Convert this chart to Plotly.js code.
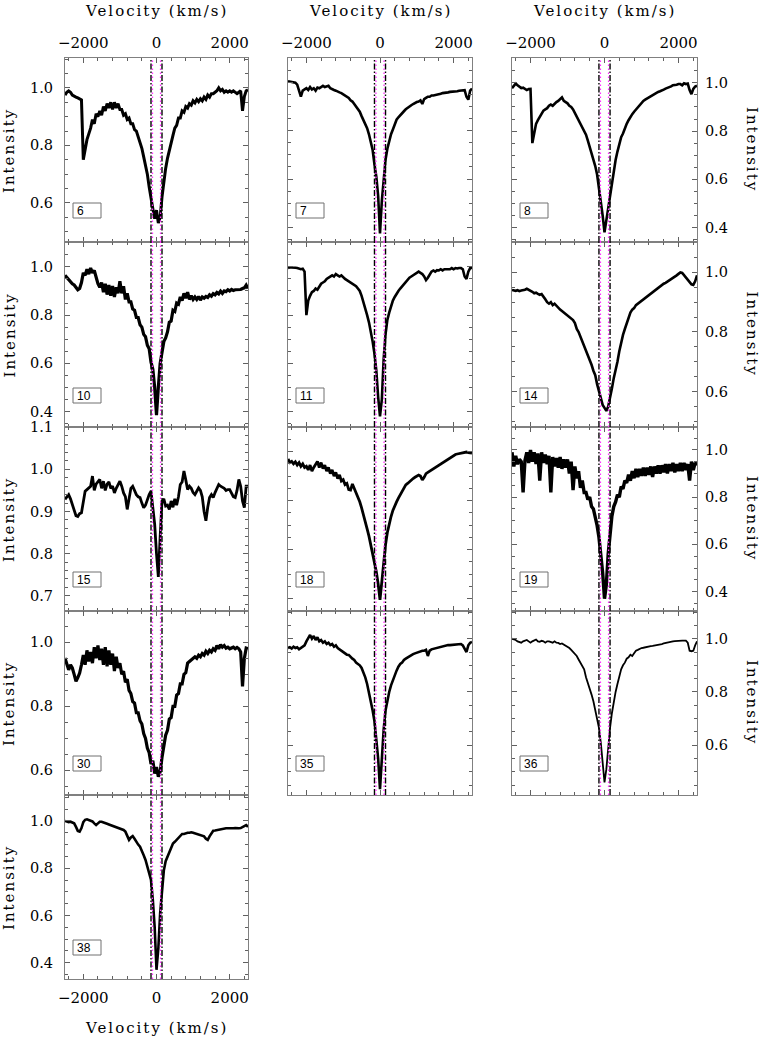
<!DOCTYPE html>
<html>
<head>
<meta charset="utf-8">
<script src="https://cdn.plot.ly/plotly-3.0.1.min.js"></script>
<style>html,body{margin:0;padding:0;background:#fff}#plot{width:761px;height:1038px}</style>
</head>
<body>
<div id="plot"></div>
<script>
// ---------------- DATA ----------------
const vel = [-2500,-2450,-2400,-2350,-2300,-2250,-2200,-2150,-2100,-2050,
 -2000,-1950,-1900,-1850,-1800,-1750,-1700,-1650,-1600,-1550,
 -1500,-1450,-1400,-1350,-1300,-1250,-1200,-1150,-1100,-1050,
 -1000,-950,-900,-850,-800,-750,-700,-650,-600,-550,
 -500,-450,-400,-350,-300,-250,-200,-150,-100,-50,
 0,
 50,100,150,200,250,300,350,400,450,500,
 550,600,650,700,750,800,850,900,950,1000,
 1050,1100,1150,1200,1250,1300,1350,1400,1450,1500,
 1550,1600,1650,1700,1750,1800,1850,1900,1950,2000,
 2050,2100,2150,2200,2250,2300,2350,2400,2450,2500];

const spec6 = [0.975,0.985,0.99,0.985,0.975,0.97,0.968,0.965,0.962,0.958,
 0.75,0.79,0.82,0.84,0.86,0.89,0.875,0.91,0.90,0.92,
 0.905,0.935,0.92,0.945,0.93,0.95,0.925,0.95,0.93,0.945,
 0.925,0.925,0.905,0.91,0.89,0.895,0.875,0.875,0.855,0.85,
 0.83,0.81,0.79,0.76,0.735,0.70,0.655,0.61,0.58,0.545,
 0.575,
 0.53,0.55,0.62,0.68,0.72,0.755,0.785,0.81,0.835,0.86,
 0.87,0.895,0.895,0.92,0.915,0.935,0.93,0.945,0.94,0.955,
 0.948,0.96,0.952,0.962,0.955,0.968,0.96,0.975,0.968,0.98,
 0.98,0.985,0.99,1.0,0.99,0.995,0.985,0.99,0.985,0.99,
 0.985,0.99,0.985,0.98,0.985,0.99,0.92,0.97,0.99,0.993];

const spec7 = [1.004,1.003,1.0,1.0,0.998,0.99,0.96,0.94,0.965,0.97,
 0.975,0.968,0.98,0.97,0.975,0.965,0.978,0.975,0.98,0.985,
 0.98,0.983,0.985,0.975,0.97,0.968,0.965,0.96,0.958,0.955,
 0.95,0.945,0.94,0.935,0.925,0.92,0.91,0.90,0.89,0.878,
 0.86,0.845,0.83,0.81,0.785,0.755,0.72,0.66,0.61,0.53,
 0.375,
 0.51,0.61,0.68,0.725,0.76,0.785,0.805,0.825,0.845,0.855,
 0.865,0.875,0.88,0.888,0.895,0.90,0.905,0.91,0.915,0.918,
 0.92,0.925,0.91,0.93,0.935,0.94,0.94,0.945,0.945,0.946,
 0.948,0.95,0.952,0.955,0.955,0.957,0.958,0.96,0.96,0.96,
 0.962,0.963,0.965,0.965,0.966,0.967,0.94,0.928,0.965,0.974];

const spec8 = [0.978,0.99,0.997,0.99,0.985,0.978,0.98,0.975,0.97,0.974,
 0.975,0.75,0.80,0.83,0.845,0.86,0.87,0.885,0.89,0.895,
 0.905,0.91,0.905,0.915,0.92,0.925,0.935,0.94,0.925,0.92,
 0.915,0.905,0.90,0.89,0.875,0.86,0.845,0.835,0.82,0.80,
 0.785,0.76,0.735,0.71,0.68,0.655,0.62,0.57,0.52,0.45,
 0.38,
 0.43,0.50,0.55,0.60,0.65,0.68,0.715,0.745,0.775,0.79,
 0.815,0.83,0.845,0.86,0.87,0.88,0.89,0.90,0.91,0.918,
 0.925,0.93,0.935,0.94,0.945,0.95,0.953,0.958,0.962,0.965,
 0.97,0.972,0.976,0.978,0.98,0.985,0.99,0.99,0.992,0.995,
 0.995,0.99,0.998,0.995,0.997,0.97,0.953,0.975,0.985,0.988];

const spec10 = [0.965,0.955,0.948,0.94,0.93,0.925,0.915,0.905,0.91,0.935,
 0.975,0.965,0.99,0.97,0.995,0.975,0.985,0.95,0.93,0.915,
 0.935,0.895,0.93,0.885,0.925,0.88,0.92,0.875,0.915,0.89,
 0.94,0.89,0.92,0.865,0.89,0.855,0.855,0.825,0.82,0.79,
 0.79,0.76,0.75,0.72,0.71,0.675,0.66,0.605,0.575,0.50,
 0.385,
 0.50,0.60,0.645,0.69,0.705,0.73,0.77,0.775,0.82,0.815,
 0.85,0.845,0.875,0.86,0.89,0.87,0.895,0.865,0.88,0.865,
 0.875,0.865,0.877,0.862,0.875,0.87,0.877,0.873,0.884,0.878,
 0.889,0.884,0.894,0.888,0.899,0.89,0.9,0.897,0.905,0.9,
 0.906,0.902,0.905,0.905,0.908,0.906,0.91,0.913,0.924,0.91];

const spec11 = [0.995,0.998,0.997,0.995,0.996,0.995,0.993,0.99,0.992,0.98,
 0.80,0.86,0.88,0.895,0.90,0.91,0.905,0.92,0.93,0.935,
 0.94,0.95,0.955,0.96,0.965,0.96,0.97,0.965,0.96,0.965,
 0.955,0.95,0.945,0.94,0.935,0.93,0.925,0.92,0.91,0.90,
 0.88,0.855,0.835,0.80,0.77,0.735,0.69,0.64,0.57,0.46,
 0.38,
 0.45,0.62,0.72,0.78,0.81,0.84,0.86,0.875,0.89,0.90,
 0.91,0.92,0.93,0.94,0.95,0.955,0.96,0.965,0.97,0.975,
 0.98,0.975,0.97,0.96,0.945,0.955,0.97,0.98,0.985,0.98,
 0.986,0.985,0.99,0.985,0.99,0.99,0.993,0.99,0.995,0.99,
 0.995,0.993,0.995,0.995,0.99,0.96,0.95,0.98,0.995,0.995];

const spec14 = [0.941,0.94,0.938,0.94,0.937,0.939,0.94,0.942,0.945,0.942,
 0.94,0.935,0.93,0.932,0.928,0.925,0.927,0.92,0.91,0.90,
 0.895,0.90,0.89,0.895,0.887,0.88,0.875,0.87,0.865,0.862,
 0.858,0.85,0.845,0.84,0.83,0.81,0.80,0.785,0.77,0.755,
 0.74,0.725,0.705,0.69,0.67,0.655,0.625,0.60,0.575,0.555,
 0.545,
 0.535,0.55,0.575,0.61,0.645,0.67,0.70,0.735,0.765,0.79,
 0.81,0.83,0.85,0.865,0.875,0.88,0.89,0.895,0.90,0.905,
 0.91,0.915,0.92,0.925,0.93,0.935,0.94,0.945,0.95,0.955,
 0.958,0.962,0.965,0.969,0.972,0.975,0.98,0.985,0.99,0.995,
 1.0,0.998,0.99,0.98,0.975,0.965,0.96,0.958,0.97,0.99];

const spec15 = [0.929,0.935,0.94,0.93,0.915,0.905,0.89,0.888,0.895,0.897,
 0.92,0.948,0.952,0.956,0.96,0.984,0.95,0.965,0.972,0.976,
 0.955,0.972,0.95,0.965,0.97,0.955,0.96,0.944,0.955,0.962,
 0.972,0.96,0.944,0.935,0.905,0.93,0.955,0.96,0.95,0.94,
 0.935,0.933,0.92,0.909,0.915,0.93,0.94,0.948,0.915,0.87,
 0.80,
 0.745,0.84,0.925,0.93,0.913,0.915,0.905,0.925,0.91,0.93,
 0.915,0.935,0.964,0.97,0.996,0.975,0.952,0.96,0.955,0.945,
 0.94,0.948,0.956,0.95,0.935,0.90,0.878,0.91,0.933,0.94,
 0.933,0.945,0.955,0.964,0.96,0.958,0.955,0.95,0.952,0.952,
 0.945,0.935,0.933,0.95,0.976,0.96,0.925,0.909,0.96,0.96];

const spec18 = [0.97,0.955,0.96,0.95,0.958,0.945,0.955,0.94,0.95,0.935,
 0.94,0.925,0.945,0.92,0.935,0.95,0.96,0.935,0.955,0.93,
 0.945,0.92,0.935,0.91,0.925,0.90,0.915,0.89,0.905,0.88,
 0.885,0.865,0.87,0.845,0.843,0.868,0.85,0.83,0.81,0.795,
 0.77,0.745,0.715,0.685,0.655,0.62,0.585,0.55,0.51,0.46,
 0.395,
 0.47,0.55,0.62,0.67,0.71,0.735,0.76,0.78,0.795,0.81,
 0.825,0.84,0.855,0.864,0.87,0.878,0.885,0.89,0.895,0.90,
 0.904,0.90,0.884,0.895,0.91,0.915,0.92,0.925,0.93,0.935,
 0.94,0.945,0.95,0.955,0.96,0.965,0.97,0.975,0.98,0.986,
 0.988,0.99,0.992,0.995,0.997,0.998,0.998,0.996,0.995,0.994];

const spec19 = [0.99,0.93,0.975,0.94,0.96,0.95,0.82,0.955,0.99,0.945,
 1.0,0.95,0.99,0.94,0.985,0.87,0.99,0.945,0.98,0.94,
 0.975,0.82,0.97,0.93,0.965,0.925,0.97,0.92,0.96,0.925,
 0.96,0.90,0.95,0.83,0.93,0.88,0.91,0.84,0.87,0.82,
 0.82,0.79,0.80,0.76,0.75,0.72,0.68,0.63,0.56,0.48,
 0.37,
 0.43,0.56,0.655,0.72,0.76,0.78,0.81,0.80,0.845,0.835,
 0.87,0.86,0.895,0.87,0.91,0.88,0.92,0.885,0.92,0.89,
 0.925,0.89,0.925,0.895,0.93,0.885,0.93,0.90,0.935,0.90,
 0.935,0.905,0.94,0.90,0.94,0.91,0.945,0.905,0.94,0.91,
 0.945,0.91,0.945,0.915,0.94,0.87,0.95,0.915,0.945,0.935];

const spec30 = [0.951,0.935,0.914,0.93,0.92,0.90,0.878,0.89,0.904,0.93,
 0.96,0.93,0.975,0.94,0.97,0.935,0.985,0.95,0.99,0.945,
 0.98,0.93,0.985,0.925,0.975,0.93,0.965,0.91,0.955,0.92,
 0.935,0.90,0.91,0.875,0.885,0.85,0.84,0.815,0.81,0.78,
 0.78,0.755,0.745,0.715,0.70,0.67,0.655,0.62,0.63,0.59,
 0.61,
 0.58,0.595,0.64,0.675,0.71,0.725,0.76,0.765,0.80,0.80,
 0.835,0.84,0.87,0.87,0.90,0.905,0.935,0.94,0.945,0.95,
 0.955,0.95,0.96,0.955,0.965,0.96,0.972,0.965,0.975,0.97,
 0.98,0.975,0.99,0.98,0.993,0.985,0.99,0.982,0.985,0.98,
 0.982,0.985,0.98,0.984,0.98,0.97,0.862,0.95,0.982,0.98];

const spec35 = [0.965,0.968,0.963,0.97,0.965,0.968,0.96,0.966,0.97,0.975,
 0.99,1.005,1.014,1.0,1.01,0.995,1.005,0.99,0.995,0.985,
 0.99,0.98,0.985,0.976,0.98,0.97,0.975,0.965,0.96,0.955,
 0.95,0.945,0.94,0.939,0.93,0.925,0.92,0.91,0.905,0.90,
 0.89,0.875,0.855,0.83,0.80,0.765,0.73,0.69,0.63,0.55,
 0.435,
 0.55,0.66,0.73,0.77,0.80,0.825,0.845,0.865,0.88,0.895,
 0.905,0.91,0.92,0.925,0.93,0.935,0.94,0.942,0.945,0.948,
 0.95,0.952,0.955,0.955,0.958,0.935,0.955,0.96,0.962,0.965,
 0.966,0.968,0.97,0.972,0.974,0.975,0.976,0.976,0.977,0.978,
 0.978,0.979,0.98,0.98,0.975,0.96,0.95,0.975,0.985,0.988];

const spec36 = [1.0,0.998,0.995,0.99,0.988,0.985,0.99,0.993,0.995,0.99,
 0.985,0.99,0.995,0.997,0.99,0.988,0.992,0.99,0.985,0.99,
 0.99,0.987,0.985,0.99,0.985,0.984,0.98,0.982,0.978,0.975,
 0.97,0.965,0.958,0.95,0.944,0.935,0.922,0.91,0.898,0.885,
 0.855,0.835,0.815,0.79,0.765,0.735,0.70,0.665,0.61,0.535,
 0.46,
 0.51,0.60,0.665,0.72,0.765,0.80,0.83,0.86,0.885,0.90,
 0.91,0.925,0.93,0.94,0.935,0.945,0.955,0.958,0.962,0.965,
 0.966,0.968,0.97,0.97,0.972,0.973,0.974,0.975,0.976,0.978,
 0.98,0.982,0.984,0.985,0.987,0.988,0.99,0.991,0.992,0.992,
 0.993,0.993,0.993,0.993,0.985,0.955,0.953,0.955,0.975,0.99];

const spec38 = [1.0,0.998,0.995,0.997,0.995,0.99,0.975,0.958,0.955,0.97,
 0.995,1.005,1.007,1.003,1.0,0.998,0.99,0.983,0.99,0.997,
 0.997,0.993,0.99,0.988,0.985,0.982,0.978,0.976,0.974,0.97,
 0.966,0.964,0.962,0.955,0.935,0.92,0.93,0.936,0.925,0.91,
 0.90,0.891,0.875,0.855,0.835,0.81,0.785,0.75,0.665,0.55,
 0.37,
 0.46,0.61,0.72,0.79,0.83,0.85,0.87,0.89,0.905,0.912,
 0.92,0.93,0.94,0.945,0.945,0.948,0.95,0.95,0.952,0.95,
 0.948,0.945,0.941,0.94,0.938,0.935,0.925,0.92,0.935,0.95,
 0.959,0.96,0.962,0.963,0.965,0.966,0.968,0.969,0.969,0.968,
 0.968,0.969,0.97,0.968,0.969,0.97,0.975,0.98,0.983,0.975];

const panelIds = ['6','7','8','10','11','14','15','18','19','30','35','36','38'];
const panelSpectra = [spec6,spec7,spec8,spec10,spec11,spec14,spec15,spec18,spec19,spec30,spec35,spec36,spec38];
const xTickVals = [-2000, 0, 2000];
const dashLinesVel = [-150, 150];   // black dash-dot markers
const dotLinesVel = [-110, 110];    // magenta dotted markers

// ---------------- LAYOUT CONFIG ----------------
const W = 761, H = 1038;
const colPx = [[65,248],[288,472],[512,697]];
const rowPx = [[58,242],[242,427],[427,611],[611,795],[795,979]];
const panelRow = [0,0,0,1,1,1,2,2,2,3,3,3,4];
const panelCol = [0,1,2,0,1,2,0,1,2,0,1,2,0];
const yRanges = [[0.464,1.104],[0.34,1.10],[0.34,1.103],
                 [0.336,1.103],[0.336,1.103],[0.481,1.102],
                 [0.664,1.1005],[0.35,1.10],[0.318,1.097],
                 [0.523,1.098],[0.413,1.104],[0.413,1.104],
                 [0.331,1.11]];
const yTicks = [[0.6,0.8,1.0],[0.4,0.6,0.8,1.0],[0.4,0.6,0.8,1.0],
                [0.4,0.6,0.8,1.0],[0.4,0.6,0.8,1.0],[0.6,0.8,1.0],
                [0.7,0.8,0.9,1.0,1.1],[0.4,0.6,0.8,1.0],[0.4,0.6,0.8,1.0],
                [0.6,0.8,1.0],[0.6,0.8,1.0],[0.6,0.8,1.0],
                [0.4,0.6,0.8,1.0]];
const lineWidths = [3.0,2.6,2.6, 3.2,2.6,2.6, 2.8,2.8,3.4, 3.2,2.6,1.8, 2.6];

const FONT = '"DejaVu Serif", serif';
const frameCol = '#808080';
const tickCol = '#606060';

const layout = {
  width: W, height: H,
  margin: {l:0, r:0, t:0, b:0},
  paper_bgcolor: '#fff', plot_bgcolor: '#fff',
  showlegend: false,
  font: {family: FONT, size: 15, color: '#000'},
  shapes: [], annotations: []
};
const traces = [];

panelIds.forEach((pid, i) => {
  const n = i + 1;
  const sfx = n === 1 ? '' : String(n);
  const r = panelRow[i], c = panelCol[i];
  const [x0, x1] = colPx[c];
  const [y0, y1] = rowPx[r];
  const xTop = r === 0;
  const xBottom = r === 4;
  const fine = (yTicks[i].length === 5);
  layout['xaxis' + sfx] = {
    domain: [x0 / W, x1 / W], anchor: 'y' + sfx,
    range: [-2500, 2500], autorange: false,
    showline: true, mirror: 'allticks', linecolor: frameCol, linewidth: 1,
    ticks: 'inside', ticklen: 5, tickwidth: 1, tickcolor: tickCol,
    tickmode: 'array', tickvals: xTickVals,
    minor: {tickmode: 'linear', tick0: 0, dtick: 400, ticks: 'inside', ticklen: 3, tickcolor: tickCol},
    showticklabels: xTop || xBottom,
    side: xTop ? 'top' : 'bottom',
    ticklabelstandoff: xTop ? 3 : 5,
    tickfont: {family: FONT, size: 15, color: '#000'},
    showgrid: false, zeroline: false, fixedrange: true
  };
  layout['yaxis' + sfx] = {
    domain: [1 - y1 / H, 1 - y0 / H], anchor: 'x' + sfx,
    range: yRanges[i], autorange: false,
    showline: true, mirror: 'allticks', linecolor: frameCol, linewidth: 1,
    ticks: 'inside', ticklen: 5, tickwidth: 1, tickcolor: tickCol,
    tickmode: 'array', tickvals: yTicks[i],
    tickformat: '.1f',
    minor: {tickmode: 'linear', tick0: 0, dtick: fine ? 0.02 : 0.05, ticks: 'inside', ticklen: 3, tickcolor: tickCol},
    showticklabels: c !== 1,
    side: c === 2 ? 'right' : 'left',
    ticklabelstandoff: c === 2 ? 4 : 8,
    tickfont: {family: FONT, size: 14.5, color: '#000'},
    showgrid: false, zeroline: false, fixedrange: true
  };
  traces.push({
    type: 'scatter', mode: 'lines', x: vel, y: panelSpectra[i],
    xaxis: 'x' + sfx, yaxis: 'y' + sfx,
    line: {color: '#000', width: lineWidths[i]},
    hoverinfo: 'skip'
  });
  dashLinesVel.forEach(v => layout.shapes.push({
    type: 'line', xref: 'x' + sfx, yref: 'y' + sfx + ' domain',
    x0: v, x1: v, y0: 0, y1: 1,
    line: {color: '#000', width: 1.4, dash: '6px,2px,1.5px,2px'}
  }));
  dotLinesVel.forEach(v => layout.shapes.push({
    type: 'line', xref: 'x' + sfx, yref: 'y' + sfx + ' domain',
    x0: v, x1: v, y0: 0, y1: 1,
    line: {color: '#ff33ff', width: 1.3, dash: '1.4px,2.6px'}
  }));
  // panel number box
  const bx0 = x0 + 8, bx1 = x0 + 36, by1 = y1 - 24, by0 = by1 - 15;
  layout.shapes.push({
    type: 'rect', xref: 'paper', yref: 'paper',
    x0: bx0 / W, x1: bx1 / W, y0: 1 - by1 / H, y1: 1 - by0 / H,
    line: {color: '#707070', width: 1}, fillcolor: 'rgba(0,0,0,0)'
  });
  layout.annotations.push({
    xref: 'paper', yref: 'paper', x: (bx0 + 2) / W, y: 1 - ((by0 + by1) / 2) / H,
    xanchor: 'left', yanchor: 'middle', showarrow: false, text: pid,
    font: {family: 'Liberation Sans, Arial, sans-serif', size: 12, color: '#000'}
  });
});

// axis titles
colPx.forEach(([a, b]) => layout.annotations.push({
  xref: 'paper', yref: 'paper', x: ((a + b) / 2) / W, y: 1 - 11 / H,
  xanchor: 'center', yanchor: 'middle', showarrow: false, text: 'Velocity (km/s)',
  font: {family: FONT, size: 15, color: '#000'}
}));
layout.annotations.push({
  xref: 'paper', yref: 'paper', x: ((colPx[0][0] + colPx[0][1]) / 2) / W, y: 1 - 1028 / H,
  xanchor: 'center', yanchor: 'middle', showarrow: false, text: 'Velocity (km/s)',
  font: {family: FONT, size: 15, color: '#000'}
});
rowPx.forEach(([a, b], r) => {
  layout.annotations.push({
    xref: 'paper', yref: 'paper', x: 9 / W, y: 1 - ((a + b) / 2) / H,
    xanchor: 'center', yanchor: 'middle', showarrow: false, text: 'Intensity', textangle: -90,
    font: {family: FONT, size: 15, color: '#000'}
  });
  if (r < 4) layout.annotations.push({
    xref: 'paper', yref: 'paper', x: 752 / W, y: 1 - ((a + b) / 2) / H,
    xanchor: 'center', yanchor: 'middle', showarrow: false, text: 'Intensity', textangle: 90,
    font: {family: FONT, size: 15, color: '#000'}
  });
});

Plotly.newPlot('plot', traces, layout, {displayModeBar: false, staticPlot: true}).then(() => {
  document.querySelectorAll('.annotation-text').forEach(t => {
    if (/Velocity|Intensity/.test(t.textContent)) t.style.letterSpacing = '2px';
  });
});
</script>
</body>
</html>
